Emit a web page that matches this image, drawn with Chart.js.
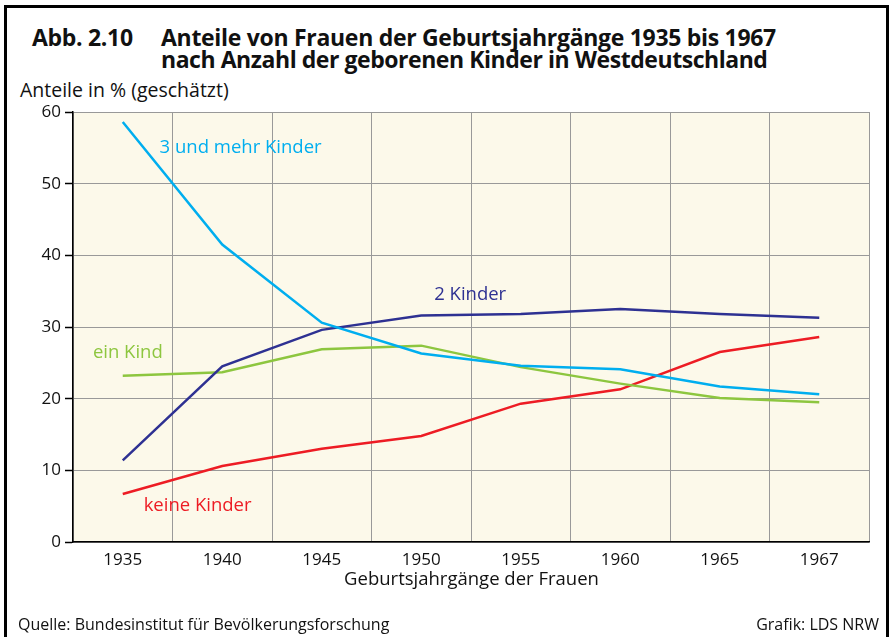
<!DOCTYPE html>
<html>
<head>
<meta charset="utf-8">
<script src="https://cdn.jsdelivr.net/npm/chart.js@4/dist/chart.umd.min.js"></script>
<style>
  html, body { margin: 0; padding: 0; background: #fff; }
  body { width: 893px; height: 637px; position: relative; overflow: hidden; font-family: "Open Sans", sans-serif; color: #111; }
  #frame { position: absolute; left: 4px; top: 5px; width: 879px; height: 700px; border: 3px solid #000; border-bottom: none; }
  .txt { position: absolute; white-space: nowrap; line-height: 1; }
  .tt { font-size: 23px; font-weight: 700; letter-spacing: -0.3px; }
  #abb { left: 32px; top: 26px; }
  #t1 { left: 161px; top: 26px; }
  #t2 { left: 161px; top: 48px; letter-spacing: -0.45px; }
  #cap { left: 20px; top: 80px; font-size: 19.5px; }
  #xtitle { left: 0; width: 943px; text-align: center; top: 569px; font-size: 18.5px; }
  #src { left: 18px; top: 616px; font-size: 16px; }
  #graf { right: 14px; top: 616px; font-size: 16px; }
  #wrap { position: absolute; left: 0; top: 0; width: 893px; height: 637px; }
</style>
</head>
<body>
<div id="frame"></div>
<div class="txt tt" id="abb">Abb. 2.10</div>
<div class="txt tt" id="t1">Anteile von Frauen der Geburtsjahrgänge 1935 bis 1967</div>
<div class="txt tt" id="t2">nach Anzahl der geborenen Kinder in Westdeutschland</div>
<div class="txt" id="cap">Anteile in % (geschätzt)</div>
<div id="wrap"><canvas id="c" width="893" height="637"></canvas></div>
<div class="txt" id="xtitle">Geburtsjahrgänge der Frauen</div>
<div class="txt" id="src">Quelle: Bundesinstitut für Bevölkerungsforschung</div>
<div class="txt" id="graf">Grafik: LDS NRW</div>
<script>
var years = ['1935', '1940', '1945', '1950', '1955', '1960', '1965', '1967'];
var yTicks = [0, 10, 20, 30, 40, 50, 60];

var dreiUndMehr = [58.6, 41.5, 30.6, 26.3, 24.6, 24.1, 21.7, 20.6];
var zweiKinder = [11.4, 24.5, 29.6, 31.6, 31.8, 32.5, 31.8, 31.3];
var einKind = [23.2, 23.7, 26.9, 27.4, 24.4, 22.1, 20.1, 19.5];
var keineKinder = [6.7, 10.6, 13.0, 14.8, 19.3, 21.3, 26.5, 28.6];

// Beschriftungen an den Linien: Kategorie-Index (mit Bruchteil) und Wert
var lineLabels = [
    { text: '3 und mehr Kinder', idx: 0.37, value: 55.0, color: '#00aeef' },
    { text: '2 Kinder', idx: 3.13, value: 34.5, color: '#2e3192' },
    { text: 'ein Kind', idx: -0.30, value: 26.4, color: '#8dc63f' },
    { text: 'keine Kinder', idx: 0.21, value: 5.0, color: '#ed1c24' }
];

var plotBg = {
    id: 'plotBg',
    beforeDraw(chart) {
        var a = chart.chartArea, ctx = chart.ctx;
        ctx.save();
        ctx.fillStyle = '#fcf9ea';
        ctx.fillRect(a.left, a.top, a.right - a.left, a.bottom - a.top);
        ctx.restore();
    }
};

var labelPlugin = {
    id: 'lineLabels',
    afterDatasetsDraw(chart) {
        var ctx = chart.ctx, xs = chart.scales.x, ys = chart.scales.y;
        var step = xs.getPixelForValue(1) - xs.getPixelForValue(0);
        ctx.save();
        ctx.font = '18.5px "Open Sans", sans-serif';
        ctx.textBaseline = 'middle';
        ctx.textAlign = 'left';
        lineLabels.forEach(l => {
            ctx.fillStyle = l.color;
            ctx.fillText(l.text, xs.getPixelForValue(0) + l.idx * step, ys.getPixelForValue(l.value));
        });
        ctx.restore();
    }
};

function mkSet(label, data, color) {
    return {
        label: label,
        data: data,
        borderColor: color,
        borderWidth: 2.5,
        pointRadius: 0,
        tension: 0,
        fill: false
    };
}

var chart = new Chart(document.getElementById('c').getContext('2d'), {
    type: 'line',
    data: {
        labels: years,
        datasets: [
            mkSet('3 und mehr Kinder', dreiUndMehr, '#00aeef'),
            mkSet('2 Kinder', zweiKinder, '#2e3192'),
            mkSet('ein Kind', einKind, '#8dc63f'),
            mkSet('keine Kinder', keineKinder, '#ed1c24')
        ]
    },
    options: {
        responsive: false,
        animation: false,
        maintainAspectRatio: false,
        layout: { padding: { left: 0, top: 112, right: 24, bottom: 55 } },
        plugins: { legend: { display: false }, tooltip: { enabled: false } },
        scales: {
            x: {
                offset: true,
                afterFit(s) { s.height = 40; },
                grid: { offset: true, color: '#999', lineWidth: 1, drawTicks: false },
                border: { color: '#000', width: 1.5 },
                ticks: { color: '#111', font: { family: 'Open Sans', size: 17 }, padding: 8, maxRotation: 0 }
            },
            y: {
                min: 0,
                max: 60,
                afterFit(s) { s.width = 73; },
                afterBuildTicks(s) { s.ticks = yTicks.map(v => ({ value: v })); },
                grid: { color: '#999', lineWidth: 1, tickLength: 8, tickColor: '#000', tickWidth: 1.5 },
                border: { color: '#000', width: 1.5 },
                ticks: { color: '#111', font: { family: 'Open Sans', size: 17 }, padding: 4 }
            }
        }
    },
    plugins: [plotBg, labelPlugin]
});
</script>
</body>
</html>
